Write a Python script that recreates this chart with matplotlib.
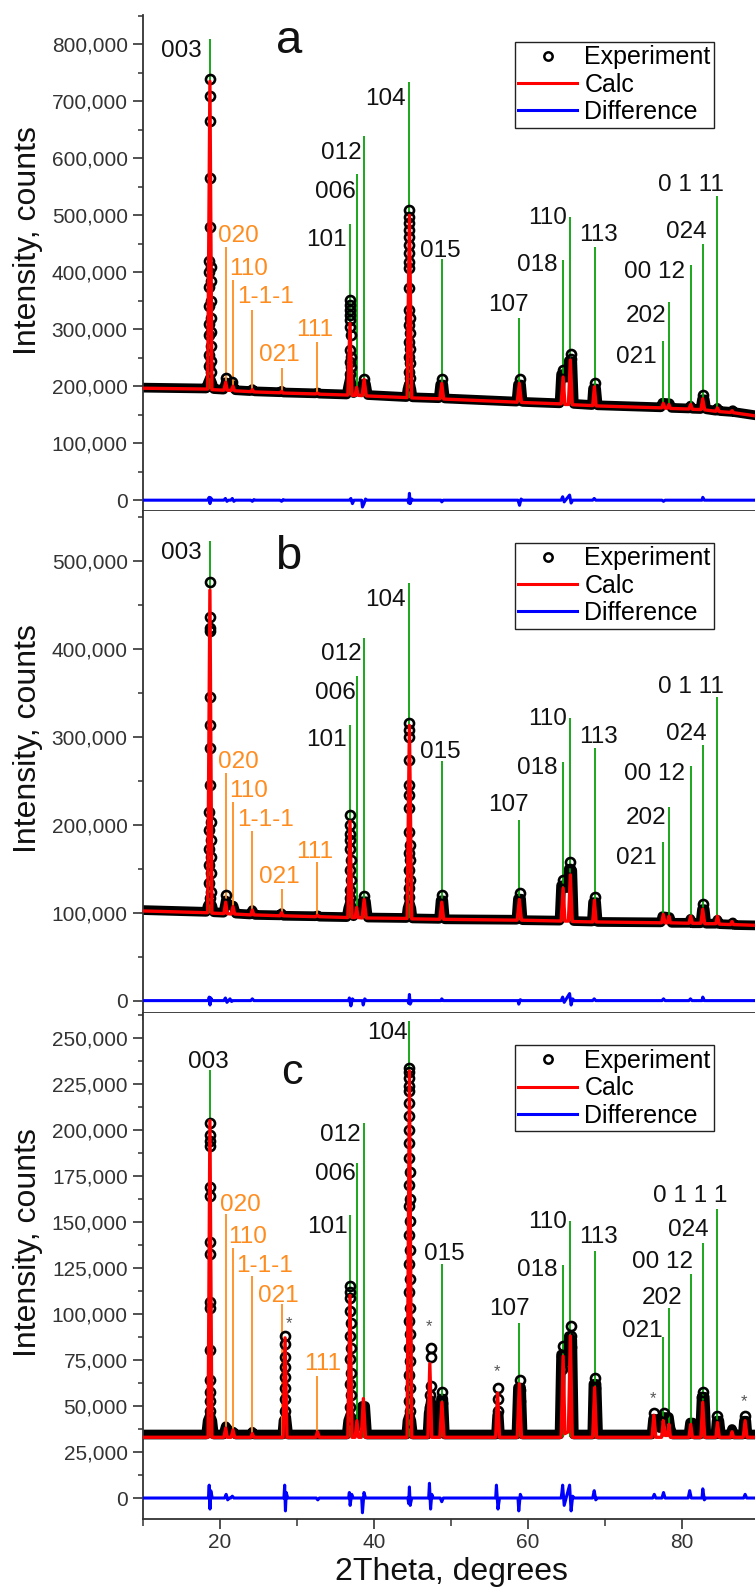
import matplotlib.pyplot as plt
from matplotlib.lines import Line2D
from matplotlib.ticker import MultipleLocator, FuncFormatter

plt.rcParams['font.family'] = ['Liberation Sans', 'DejaVu Sans']

# intensities in thousands of counts, positions in degrees 2theta

# reflection positions (green: layered phase, orange: second phase)
hkl_pos = [18.69, 36.88, 37.74, 38.74, 44.6, 48.8, 58.87, 64.56, 65.5, 68.65,
           77.57, 78.3, 81.13, 82.69, 84.6]
imp_pos = [20.74, 21.69, 24.2, 28.0, 32.66]

# ---------------- panel a ----------------
calc_a = [(10, 196.5), (18.4, 195), (18.69, 735), (18.95, 194), (20.5, 193), (20.74, 207),
          (20.95, 193), (21.45, 192.5), (21.69, 200), (21.9, 192), (24.0, 190.5), (24.2, 194),
          (24.4, 190), (27.8, 188.5), (28.0, 191), (28.2, 188), (32.4, 186.5), (32.66, 188),
          (32.9, 186), (36.6, 184.5), (36.88, 310), (37.15, 184), (37.55, 184), (37.74, 198),
          (37.95, 184), (38.45, 183.5), (38.72, 212), (39.0, 183), (44.3, 180), (44.6, 500),
          (44.9, 179.5), (48.55, 178), (48.8, 205), (49.05, 177.5), (58.6, 172), (58.87, 205),
          (59.15, 171.5), (64.3, 169), (64.56, 216), (64.8, 168), (65.25, 168), (65.5, 246),
          (65.75, 167.5), (68.4, 166), (68.62, 199), (68.85, 165.5), (77.35, 162), (77.57, 170),
          (77.8, 161.5), (78.1, 161.5), (78.3, 168), (78.5, 161), (80.9, 160), (81.13, 168),
          (81.35, 159.5), (82.45, 159), (82.69, 178), (82.95, 158.5), (84.4, 156), (84.6, 162),
          (84.85, 155.5), (86.3, 154), (86.5, 157), (86.7, 153.5), (90, 147)]
band_a = [(10, 197.5), (18.2, 196), (18.4, 205), (18.7, 215), (19.0, 205), (19.2, 195),
          (20.45, 194), (20.75, 207), (21.1, 200), (21.45, 198), (21.7, 202), (22.0, 193),
          (23.9, 191.5), (24.2, 195), (24.5, 191), (27.8, 189.5), (28.0, 192), (28.2, 189),
          (32.4, 187.5), (32.7, 189), (32.9, 187), (36.45, 185.5), (36.65, 200), (36.9, 215),
          (37.15, 200), (37.35, 188), (37.55, 192), (37.8, 198), (38.2, 194), (38.5, 204),
          (38.95, 204), (39.2, 184.5), (44.2, 181), (44.35, 195), (44.6, 205), (44.85, 195),
          (45.0, 180.5), (48.4, 179), (48.6, 203), (49.0, 203), (49.2, 178.5), (58.5, 173),
          (58.7, 203), (59.1, 203), (59.3, 172.5), (64.1, 170), (64.3, 221), (64.75, 221),
          (65.05, 215), (65.3, 245), (65.75, 243), (65.95, 169), (68.3, 167), (68.45, 196),
          (68.85, 196), (69.05, 166.5), (77.25, 163), (77.45, 171), (78.4, 170), (78.65, 162),
          (80.9, 161), (81.1, 166), (81.35, 160.5), (82.4, 160), (82.6, 177), (82.95, 177),
          (83.15, 159.5), (84.4, 157), (84.6, 162), (84.9, 156.5), (86.4, 155), (86.6, 158),
          (86.8, 154.5), (90, 148)]
obs_a = [(18.7, 740), (18.7, 710), (18.7, 665), (18.7, 565), (18.68, 480), (18.62, 420),
         (18.78, 410), (18.62, 400), (18.78, 385), (18.62, 375), (18.78, 350), (18.62, 340),
         (18.78, 320), (18.62, 310), (18.78, 295), (18.62, 290), (18.78, 270), (18.62, 255),
         (18.78, 245), (18.62, 235), (18.8, 225),
         (36.9, 351), (36.9, 342), (36.9, 333), (36.9, 325), (36.9, 316), (36.85, 304),
         (36.95, 290), (36.85, 263), (36.95, 252), (36.85, 243), (36.95, 234), (36.9, 222),
         (44.6, 509), (44.6, 497), (44.6, 486), (44.6, 474), (44.6, 462), (44.6, 448),
         (44.6, 433), (44.6, 418), (44.6, 407), (44.55, 372), (44.55, 334), (44.65, 319),
         (44.55, 307), (44.65, 293), (44.55, 278), (44.65, 266), (44.55, 252), (44.65, 240),
         (44.55, 225), (44.65, 214), (44.6, 202),
         (20.75, 214), (21.55, 208), (38.65, 212), (48.8, 212), (58.9, 212), (64.5, 229),
         (65.55, 256), (65.55, 248), (68.65, 205), (82.75, 184)]
diff_a = [(10, 0), (18.4, 0), (18.6, 5), (18.7, -6), (18.8, 4), (19.0, 0), (20.5, 0),
          (20.7, 3), (20.9, -2), (21.1, 0), (21.4, 0), (21.6, 3), (21.8, -2), (22.0, 0),
          (24.0, 0), (24.2, -2), (24.4, 1), (24.6, 0), (27.8, 0), (28.0, -2), (28.2, 1),
          (28.4, 0), (36.8, 0), (37.0, 3), (37.2, -6), (37.4, 0), (38.4, 0), (38.5, -12),
          (38.7, -6), (38.9, 2), (39.1, 0), (44.4, 0), (44.5, -5), (44.6, 12), (44.7, -6),
          (44.9, 2), (45.1, 0), (48.7, 0), (48.8, -3), (49.0, 0), (58.7, 0), (58.9, -9),
          (59.1, 2), (59.3, 0), (64.3, 0), (64.5, 6), (64.7, -3), (65.4, 9), (65.6, -5),
          (65.8, 0), (68.4, 0), (68.6, 3), (68.8, 0), (77.4, 0), (77.6, -2), (77.8, 0),
          (82.6, 0), (82.7, 5), (82.9, 0), (90, 0)]
green_top_a = [808.8, 484, 572, 638.6, 734, 422.5, 319, 421, 497, 444, 279.5, 348, 412, 449, 533]
green_base_a = [195, 184, 184, 183, 180, 178, 172, 169, 168, 166, 162, 161, 160, 159, 156]
orange_top_a = [444, 386, 333, 231.6, 277.7]
orange_base_a = [193, 192.5, 190.5, 188.5, 186.5]

# ---------------- panel b ----------------
calc_b = [(10, 102), (18.4, 100), (18.69, 467), (18.95, 99.5), (20.5, 99), (20.74, 112),
          (20.95, 99), (21.45, 98.5), (21.69, 107), (21.9, 98.5), (24.0, 97.5), (24.2, 103),
          (24.4, 97.5), (27.8, 96.5), (28.0, 100), (28.2, 96.5), (32.4, 95.5), (32.66, 97),
          (32.9, 95.5), (36.6, 94.5), (36.88, 204), (37.15, 94.5), (37.55, 94.5), (37.74, 106),
          (37.95, 94.5), (38.45, 94), (38.72, 115), (39.0, 94), (44.3, 93.5), (44.6, 313),
          (44.9, 93), (48.55, 92.5), (48.8, 112), (49.05, 92.5), (58.6, 91.5), (58.87, 115),
          (59.15, 91.5), (64.3, 90.5), (64.56, 128), (64.8, 90.5), (65.25, 90.5), (65.5, 143),
          (65.75, 90), (68.4, 89.5), (68.62, 114), (68.85, 89.5), (77.35, 88.5), (77.57, 98),
          (77.8, 88.5), (78.1, 88.5), (78.3, 96), (78.5, 88.5), (80.9, 88), (81.13, 96),
          (81.35, 88), (82.45, 88), (82.69, 104), (82.95, 87.5), (84.4, 87.5), (84.6, 96),
          (84.85, 87), (86.3, 86.5), (86.5, 90), (86.7, 86.5), (90, 85.5)]
band_b = [(10, 103), (18.2, 101), (18.4, 108), (18.7, 112), (19.0, 108), (19.2, 100.5),
          (20.45, 100), (20.75, 114), (21.1, 110), (21.45, 108), (21.75, 108), (22.05, 99),
          (23.9, 98), (24.2, 103), (24.55, 97.5), (27.8, 97), (28.0, 99.5), (28.25, 96.5),
          (32.4, 96), (32.7, 97), (32.9, 95.5), (36.45, 95), (36.65, 105), (36.9, 112),
          (37.15, 105), (37.35, 96), (37.55, 98), (37.8, 103), (38.2, 101), (38.5, 113),
          (38.95, 113), (39.2, 94.5), (44.2, 94), (44.35, 105), (44.6, 112), (44.85, 105),
          (45.0, 93.5), (48.45, 93), (48.65, 114), (49.0, 114), (49.2, 92.5), (58.5, 92),
          (58.7, 116), (59.1, 116), (59.3, 91.5), (64.1, 91), (64.3, 131), (64.75, 131),
          (65.05, 128), (65.3, 150), (65.75, 148), (65.95, 90.5), (68.3, 90), (68.45, 112),
          (68.85, 112), (69.05, 89.5), (77.25, 89), (77.45, 96), (78.4, 95), (78.65, 88.5),
          (80.9, 88.5), (81.1, 93), (81.35, 88), (82.4, 88), (82.6, 104), (82.95, 104),
          (83.15, 87.5), (84.4, 87.5), (84.6, 92), (84.9, 87), (86.4, 86.5), (86.6, 89),
          (86.8, 86), (90, 85.5)]
obs_b = [(18.7, 476.5), (18.7, 436), (18.7, 423.5), (18.7, 420.5), (18.7, 345), (18.7, 313.5),
         (18.7, 287), (18.68, 245), (18.62, 215), (18.78, 203.5), (18.62, 194), (18.78, 182.7),
         (18.62, 173), (18.78, 163.7), (18.62, 154), (18.78, 144.8), (18.62, 133.4),
         (18.78, 124), (18.7, 116.4),
         (36.9, 211), (36.9, 200), (36.9, 190), (36.9, 183), (36.85, 173), (36.95, 160),
         (36.85, 148.6), (36.95, 137), (36.85, 126), (36.9, 116.4),
         (44.6, 315.5), (44.6, 308), (44.6, 300), (44.6, 273.7), (44.6, 245), (44.6, 234),
         (44.6, 218.8), (44.55, 192), (44.65, 177), (44.55, 167.6), (44.65, 160),
         (44.55, 148.6), (44.65, 137), (44.55, 127.8), (44.6, 118.2),
         (20.75, 120), (38.7, 119), (48.8, 120), (58.9, 122), (64.5, 137), (65.5, 158),
         (65.5, 150), (68.65, 118), (82.7, 110)]
diff_b = [(10, 0), (18.5, 0), (18.6, 4), (18.7, -5), (18.8, 3), (19.0, 0), (20.5, 0),
          (20.7, 3), (20.9, -2), (21.1, 0), (21.3, 2), (21.5, -1), (21.7, 0), (24.0, 0),
          (24.2, 2), (24.4, 0), (36.7, 0), (36.8, 3), (37.0, -6), (37.2, 2), (37.4, 0),
          (38.5, 0), (38.6, -5), (38.8, 2), (39.0, 0), (44.4, 0), (44.5, -3), (44.6, 7),
          (44.7, -4), (44.9, 0), (48.7, 0), (48.8, 2), (49.0, 0), (58.7, 0), (58.8, -4),
          (59.0, 1), (59.2, 0), (64.3, 0), (64.5, 4), (64.7, -2), (65.4, 8), (65.6, -5),
          (65.8, 2), (66.0, 0), (68.4, 0), (68.6, 2), (68.8, 0), (77.4, 0), (77.6, 2),
          (77.8, 0), (80.9, 0), (81.1, 2), (81.3, 0), (82.6, 0), (82.7, 4), (82.9, 0), (90, 0)]
green_top_b = [523, 313.5, 369, 413, 475, 273, 205, 271, 321, 287, 180, 220.6, 267, 291, 345]
green_base_b = [100, 94.5, 94.5, 94, 93.5, 92.5, 91.5, 90.5, 90.5, 89.5, 88.5, 88.5, 88, 88, 87.5]
orange_top_b = [258.6, 226, 193, 126.6, 158]
orange_base_b = [99, 98.5, 97.5, 96.5, 95.5]

# ---------------- panel c ----------------
calc_c = [(10, 33), (18.45, 33), (18.69, 205), (18.95, 33), (20.5, 33), (20.74, 38),
          (20.95, 33), (21.45, 33), (21.69, 37), (21.9, 33), (24.0, 33), (24.2, 35),
          (24.4, 33), (28.2, 33), (28.45, 87), (28.7, 33), (32.45, 33), (32.66, 36),
          (32.9, 33), (36.6, 33), (36.88, 110), (37.15, 33), (37.55, 33), (37.78, 42),
          (38.0, 33), (38.35, 33), (38.62, 54), (38.9, 33), (44.3, 33), (44.6, 232),
          (44.9, 33), (47.0, 33), (47.25, 73), (47.5, 33), (48.55, 33), (48.82, 52),
          (49.1, 33), (55.8, 33), (56.05, 57), (56.3, 33), (58.6, 33), (58.87, 62),
          (59.15, 33), (64.3, 33), (64.56, 77), (64.8, 35), (65.25, 36), (65.5, 88),
          (65.75, 33), (68.4, 33), (68.65, 60), (68.9, 33), (76.1, 33), (76.35, 45),
          (76.6, 33), (77.35, 33), (77.57, 42), (77.8, 34), (78.1, 34), (78.3, 40),
          (78.5, 33), (80.9, 33), (81.13, 40), (81.35, 33), (82.45, 33), (82.69, 52),
          (82.95, 33), (84.4, 33), (84.6, 41), (84.85, 33), (86.3, 33), (86.5, 36),
          (86.7, 33), (87.95, 33), (88.2, 42), (88.45, 33), (90, 33)]
band_c = [(10, 34.5), (18.2, 34.5), (18.4, 42), (18.7, 45), (19.0, 42), (19.2, 34.5),
          (20.45, 34.5), (20.75, 39), (21.1, 37), (21.45, 36), (21.75, 36), (22.05, 34.5),
          (24.0, 34.5), (24.2, 36), (24.45, 34.5), (28.1, 34.5), (28.25, 42), (28.6, 44),
          (28.85, 34.5), (36.45, 34.5), (36.65, 42), (36.9, 45), (37.15, 42), (37.4, 36),
          (37.6, 38), (37.85, 43), (38.2, 41), (38.45, 50), (38.85, 50), (39.1, 34.5),
          (44.2, 34.5), (44.35, 42), (44.6, 45), (44.85, 42), (45.05, 34.5), (46.95, 34.5),
          (47.1, 46), (47.4, 53), (47.55, 38), (47.8, 35), (48.55, 35), (48.7, 54),
          (49.0, 54), (49.2, 34.5), (55.85, 34.5), (56.0, 45), (56.2, 45), (56.35, 34.5),
          (58.5, 34.5), (58.7, 60), (59.1, 60), (59.3, 34.5), (64.1, 34.5), (64.3, 78),
          (64.75, 78), (65.05, 74), (65.3, 88), (65.75, 86), (65.95, 34.5), (68.35, 34.5),
          (68.5, 62), (68.9, 62), (69.1, 34.5), (76.05, 34.5), (76.25, 43), (76.6, 43),
          (77.1, 38), (77.35, 44), (78.3, 44), (78.5, 38), (78.8, 34.5), (80.85, 34.5),
          (81.05, 41), (81.4, 41), (81.6, 34.5), (82.35, 34.5), (82.55, 55), (82.95, 55),
          (83.15, 34.5), (84.35, 34.5), (84.5, 42), (84.85, 42), (85.05, 34.5), (86.3, 34.5),
          (86.5, 37.5), (86.75, 34.5), (87.9, 34.5), (88.05, 42), (88.35, 42), (88.5, 34.5),
          (90, 34.5)]
obs_c = [(18.7, 204), (18.7, 197), (18.7, 194), (18.7, 191), (18.7, 169), (18.7, 164),
         (18.7, 139), (18.7, 132.6), (18.7, 106.6), (18.7, 103.5), (18.7, 80.6), (18.7, 64),
         (18.7, 57.8), (18.7, 52.6), (18.7, 47.4),
         (28.45, 88), (28.45, 83.7), (28.45, 76.5), (28.45, 71.3), (28.45, 66), (28.45, 59.8),
         (28.45, 53.6), (28.45, 47.4),
         (36.9, 115), (36.9, 112), (36.9, 108.7), (36.85, 101.4), (36.95, 95), (36.85, 88),
         (36.95, 81.7), (36.85, 75.4), (36.95, 68), (36.85, 62), (36.95, 55.7), (36.85, 49.5),
         (36.9, 43),
         (44.6, 233.4), (44.6, 231.3), (44.6, 228.2), (44.6, 224), (44.6, 220.9), (44.6, 214.7),
         (44.6, 207.4), (44.6, 200.1), (44.6, 192.9), (44.55, 184.5), (44.65, 177.3),
         (44.55, 170), (44.65, 162.7), (44.55, 158.6), (44.65, 150.3), (44.55, 143),
         (44.65, 134.7), (44.55, 127.4), (44.65, 119.1), (44.55, 111.8), (44.65, 103.5),
         (44.55, 96.3), (44.65, 89), (44.55, 81.7), (44.65, 74.4), (44.55, 67.1),
         (44.65, 59.8), (44.55, 52.6), (44.65, 47.4), (44.6, 41.1),
         (47.35, 81.7), (47.35, 76.5), (47.35, 60.9), (47.3, 55.7), (47.3, 49.5),
         (48.85, 57.8), (48.85, 51.6), (56.1, 59.8), (56.1, 53.6), (56.1, 47.4),
         (58.9, 64), (58.9, 58.8), (58.9, 52.6), (64.5, 82.7), (64.45, 77), (64.45, 70),
         (65.55, 93.5), (65.55, 88), (65.55, 82), (68.65, 65), (68.65, 60), (76.4, 46.3),
         (77.6, 46.3), (82.75, 57.8), (82.65, 55), (84.6, 44.3), (88.2, 44.3)]
diff_c = [(10, 0), (18.5, 0), (18.6, 7), (18.7, -6), (18.8, 4), (19.0, 0), (20.6, 0),
          (20.8, 2), (21.0, -1), (21.2, 0), (21.4, 0), (21.6, 1), (21.8, 0), (28.3, 0),
          (28.4, 7), (28.5, -7), (28.6, 3), (28.8, 0), (32.5, 0), (32.7, -1), (32.9, 0),
          (36.7, 0), (36.8, 3), (36.9, -4), (37.1, 2), (37.3, 0), (38.4, 0), (38.5, -8),
          (38.7, 3), (38.9, 0), (44.4, 0), (44.5, -3), (44.6, 6), (44.7, -4), (44.9, 0),
          (47.1, 0), (47.2, 8), (47.35, -6), (47.5, 2), (47.7, 0), (48.6, 0), (48.8, -2),
          (49.0, 0), (55.8, 0), (55.9, 7), (56.1, -6), (56.3, 0), (58.7, 0), (58.8, -7),
          (59.0, 2), (59.2, 0), (64.3, 0), (64.4, 3), (64.5, 7), (64.7, -4), (65.4, 7),
          (65.6, -7), (65.8, 1), (66.0, 0), (68.4, 0), (68.6, 4), (68.8, -1), (69.0, 0),
          (76.2, 0), (76.4, 2), (76.6, 0), (77.4, 0), (77.6, 3), (77.8, 0), (80.8, 0),
          (81.0, 4), (81.2, 0), (82.6, 0), (82.7, 5), (82.9, -1), (83.1, 0), (88.0, 0),
          (88.2, 2), (88.4, 0), (90, 0)]
green_top_c = [232.8, 153.8, 182, 204, 259, 127.4, 95.2, 126.8, 150.3, 134, 87.3, 103, 121.8, 138.8, 157]
green_base_c = [33] * 15
orange_top_c = [154.4, 135.7, 120.6, 105.2, 66.5]
orange_base_c = [33] * 5

# text labels: (text, 2theta, intensity, horizontal alignment)
hkl_text_a = [('003', 17.64, 788, 'right'), ('101', 36.4, 457, 'right'), ('006', 37.57, 540, 'right'),
              ('012', 38.35, 610, 'right'), ('104', 44.07, 704, 'right'), ('015', 48.57, 438, 'center'),
              ('107', 57.5, 342, 'center'), ('018', 63.82, 412, 'right'), ('110', 65.03, 496, 'right'),
              ('113', 69.1, 466, 'center'), ('021', 76.75, 252, 'right'), ('202', 77.92, 324, 'right'),
              ('00 12', 80.4, 401, 'right'), ('024', 80.56, 470, 'center'), ('0 1 11', 81.2, 553, 'center')]
imp_text_a = [('020', 19.74, 464, 'left'), ('110', 21.17, 405, 'left'), ('1-1-1', 22.2, 356, 'left'),
              ('021', 25.07, 254, 'left'), ('111', 29.85, 298, 'left')]
hkl_text_b = [('003', 17.64, 509, 'right'), ('101', 36.4, 296, 'right'), ('006', 37.57, 350, 'right'),
              ('012', 38.35, 394, 'right'), ('104', 44.07, 456, 'right'), ('015', 48.57, 283, 'center'),
              ('107', 57.5, 222, 'center'), ('018', 63.82, 265, 'right'), ('110', 65.03, 320, 'right'),
              ('113', 69.1, 300, 'center'), ('021', 76.75, 162, 'right'), ('202', 77.92, 208, 'right'),
              ('00 12', 80.4, 258, 'right'), ('024', 80.56, 303, 'center'), ('0 1 11', 81.2, 357, 'center')]
imp_text_b = [('020', 19.74, 271, 'left'), ('110', 21.17, 239, 'left'), ('1-1-1', 22.2, 206, 'left'),
              ('021', 25.07, 141, 'left'), ('111', 29.85, 169, 'left')]
hkl_text_c = [('003', 18.5, 237, 'center'), ('101', 36.53, 147.5, 'right'), ('006', 37.57, 176, 'right'),
              ('012', 38.31, 197.4, 'right'), ('104', 44.33, 252.7, 'right'), ('015', 49.09, 132.3, 'center'),
              ('107', 57.57, 102.6, 'center'), ('018', 63.77, 124, 'right'), ('110', 65.07, 150, 'right'),
              ('113', 69.17, 142, 'center'), ('021', 77.45, 90.7, 'right'), ('202', 77.4, 108.4, 'center'),
              ('00 12', 81.39, 128, 'right'), ('024', 80.76, 145.4, 'center'), ('0 1 1 1', 81.1, 164, 'center')]
imp_text_c = [('020', 19.96, 159.3, 'left'), ('110', 21.08, 142, 'left'), ('1-1-1', 22.04, 126, 'left'),
              ('021', 24.98, 109.5, 'left'), ('111', 30.93, 73, 'left')]
star_c = [(29.0, 95), (47.2, 93), (55.95, 68.5), (76.26, 54), (88.0, 52.3)]

legend_labels = ['Experiment', 'Calc', 'Difference']

GREEN = '#0aa00a'
ORANGE = '#ff8c1f'

panels = [
    dict(box=[0.1894, 0.67841, 0.81589, 0.31215], ylim=(-19, 851.5), major=100, minor=50,
         calc=calc_a, band=band_a, obs=obs_a, diff=diff_a,
         gtop=green_top_a, gbase=green_base_a, otop=orange_top_a, obase=orange_base_a,
         hkl=hkl_text_a, imp=imp_text_a, letter=('a', 29.0, 785, 34), stars=[], leg_y=0.9462),
    dict(box=[0.1894, 0.36249, 0.81589, 0.31592], ylim=(-14.1, 557), major=100, minor=50,
         calc=calc_b, band=band_b, obs=obs_b, diff=diff_b,
         gtop=green_top_b, gbase=green_base_b, otop=orange_top_b, obase=orange_base_b,
         hkl=hkl_text_b, imp=imp_text_b, letter=('b', 28.85, 491, 34), stars=[], leg_y=0.9369),
    dict(box=[0.1894, 0.04405, 0.81589, 0.31844], ylim=(-11.4, 263.5), major=25, minor=12.5,
         calc=calc_c, band=band_c, obs=obs_c, diff=diff_c,
         gtop=green_top_c, gbase=green_base_c, otop=orange_top_c, obase=orange_base_c,
         hkl=hkl_text_c, imp=imp_text_c, letter=('c', 29.33, 225, 31), stars=star_c, leg_y=0.9358),
]

fig = plt.figure(figsize=(7.55, 15.89), dpi=100)
axes = []
for i, p in enumerate(panels):
    ax = fig.add_axes(p['box'])
    axes.append(ax)

    bx, by = zip(*p['band'])
    ax.plot(bx, by, color='black', lw=7, solid_joinstyle='round', zorder=2)
    ax.vlines(hkl_pos, p['gbase'], p['gtop'], color=GREEN, lw=1.3, zorder=2.5)
    ax.vlines(imp_pos, p['obase'], p['otop'], color=ORANGE, lw=1.3, zorder=2.5)
    ox, oy = zip(*p['obs'])
    ax.plot(ox, oy, 'o', mfc='none', mec='black', ms=6.5, mew=1.9, zorder=3)
    cx, cy = zip(*p['calc'])
    ax.plot(cx, cy, color='red', lw=2.4, zorder=4)
    dx, dy = zip(*p['diff'])
    ax.plot(dx, dy, color='blue', lw=2.2, zorder=4)

    for t, x, y, ha in p['hkl']:
        ax.text(x, y, t, fontsize=17.5, color='#111111', ha=ha, va='center', zorder=5)
    for t, x, y, ha in p['imp']:
        ax.text(x, y, t, fontsize=17.5, color=ORANGE, ha=ha, va='center', zorder=5)
    for x, y in p['stars']:
        ax.text(x, y, '*', fontsize=12, color='#555555', ha='center', va='center', zorder=5)
    lt, lx, ly, ls = p['letter']
    ax.text(lx, ly, lt, fontsize=ls, color='#111111', ha='center', va='baseline', zorder=5)

    handles = [Line2D([], [], marker='o', ls='none', mfc='none', mec='black', ms=6, mew=1.8),
               Line2D([], [], color='red', lw=2.2),
               Line2D([], [], color='blue', lw=2.2)]
    leg = ax.legend(handles, legend_labels, loc='upper right', bbox_to_anchor=(0.9274, p['leg_y']),
                    borderaxespad=0, fontsize=18, fancybox=False, framealpha=1, edgecolor='#222222',
                    handlelength=2.36, handletextpad=0.28, borderpad=0.15, labelspacing=0.13,
                    numpoints=1)
    leg.get_frame().set_linewidth(1.0)
    leg.set_zorder(6)

    ax.set_xlim(10, 90)
    ax.set_ylim(*p['ylim'])
    ax.xaxis.set_major_locator(MultipleLocator(20))
    ax.xaxis.set_minor_locator(MultipleLocator(10))
    ax.yaxis.set_major_locator(MultipleLocator(p['major']))
    ax.yaxis.set_minor_locator(MultipleLocator(p['minor']))
    ax.yaxis.set_major_formatter(FuncFormatter(lambda v, pos: f'{v * 1000:,.0f}'))

    for s in ['top', 'right']:
        ax.spines[s].set_visible(False)
    for s in ['left', 'bottom']:
        ax.spines[s].set_linewidth(1.3)
        ax.spines[s].set_color('#333333')
    ax.tick_params(axis='both', which='major', direction='out', length=7, width=1.2,
                   color='#333333', labelsize=15, labelcolor='#333333')
    ax.tick_params(axis='y', which='major', pad=4)
    ax.tick_params(axis='y', which='minor', direction='out', length=3.6, width=1.1, color='#333333')
    ax.tick_params(axis='x', which='minor', direction='out', length=5, width=1.1, color='#333333')
    ax.tick_params(axis='x', which='major', pad=3, labelbottom=(i == 2))

    ax.set_ylabel('Intensity, counts', fontsize=23, color='#111111')
    ax.yaxis.label.set_va('center')
    ax.yaxis.set_label_coords(-0.1867, 0.546)

axes[2].set_xlabel('2Theta, degrees', fontsize=23, color='#111111')
axes[2].xaxis.label.set_va('center')
axes[2].xaxis.set_label_coords(0.5, -0.1047)

fig.savefig('out.png', dpi=100)
